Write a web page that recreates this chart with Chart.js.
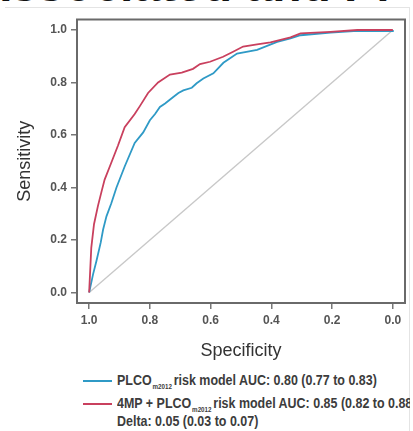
<!DOCTYPE html>
<html>
<head>
<meta charset="utf-8">
<script src="https://cdn.jsdelivr.net/npm/chart.js@4/dist/chart.umd.min.js"></script>
<style>
  body { margin: 0; background: #fff; }
  #wrap { position: relative; width: 410px; height: 431px; overflow: hidden; background: #fff; }
  #heading { position: absolute; left: -24px; top: -39px; font: bold 48px 'Liberation Sans', Arial, sans-serif; line-height: 48px; color: #111; white-space: nowrap; }
  #rule { position: absolute; left: 5px; top: 7px; width: 404px; height: 440px; border-top: 1px solid #e4e4e4; border-right: 1px solid #e4e4e4; background: #fff; }
  #roc { position: absolute; left: 0; top: 0; }
  .swatch { position: absolute; left: 83px; width: 29px; height: 2px; }
  .key { position: absolute; left: 117px; height: 16px; line-height: 16px; font: bold 14px 'Liberation Sans', Arial, sans-serif; color: #3c3c3c; white-space: nowrap; transform: scaleX(0.89); transform-origin: left center; }
  .key sub { font-size: 7px; line-height: 7px; vertical-align: -4px; margin: 0 2px 0 1px; }
</style>
</head>
<body>
<div id="wrap">
  <div id="heading">Associated and Pr</div>
  <div id="rule"></div>
  <canvas id="roc" width="413" height="365"></canvas>
  <div class="swatch" style="top:380px; background:#2f9ac6"></div>
  <div class="key" style="top:372px">PLCO<sub>m2012</sub>risk model AUC: 0.80 (0.77 to 0.83)</div>
  <div class="swatch" style="top:403px; background:#c9405e"></div>
  <div class="key" style="top:395px">4MP + PLCO<sub>m2012</sub>risk model AUC: 0.85 (0.82 to 0.88)</div>
  <div class="key" style="top:413px">Delta: 0.05 (0.03 to 0.07)</div>
</div>
<script>
// ROC points read as (specificity, sensitivity)
const plcoSpec = [1.0, 0.987, 0.976, 0.962, 0.954, 0.943, 0.927, 0.910, 0.883, 0.850, 0.822, 0.800,
  0.783, 0.767, 0.750, 0.723, 0.706, 0.690, 0.662, 0.646, 0.624, 0.591, 0.558, 0.513, 0.447,
  0.381, 0.337, 0.304, 0.205, 0.129, 0.001, 0.0];
const plcoSens = [0.0, 0.07, 0.12, 0.19, 0.24, 0.29, 0.34, 0.40, 0.48, 0.57, 0.61, 0.656,
  0.68, 0.707, 0.72, 0.745, 0.76, 0.77, 0.78, 0.797, 0.815, 0.835, 0.875, 0.91, 0.924,
  0.955, 0.968, 0.98, 0.99, 0.996, 0.996, 1.0];

const panelSpec = [1.0, 0.993, 0.984, 0.971, 0.958, 0.949, 0.932, 0.905, 0.883, 0.850, 0.833,
  0.806, 0.773, 0.734, 0.695, 0.658, 0.635, 0.602, 0.559, 0.526, 0.493, 0.447, 0.403, 0.337,
  0.304, 0.205, 0.117, 0.0];
const panelSens = [0.0, 0.17, 0.26, 0.33, 0.39, 0.43, 0.48, 0.56, 0.63, 0.68, 0.71,
  0.76, 0.80, 0.83, 0.838, 0.852, 0.87, 0.879, 0.898, 0.917, 0.937, 0.945, 0.953, 0.972,
  0.987, 0.993, 1.0, 1.0];

const chanceSpec = [1, 0];
const chanceSens = [0, 1];

const axisTicks = [0, 0.2, 0.4, 0.6, 0.8, 1.0];

const toPoints = (xs, ys) => xs.map((x, i) => ({ x: x, y: ys[i] }));

Chart.defaults.font.family = "'Liberation Sans', Arial, sans-serif";

// box round the plot area
const frameBox = {
  id: 'frameBox',
  afterDatasetsDraw(chart) {
    const { ctx, chartArea: a } = chart;
    ctx.save();
    ctx.strokeStyle = '#6a6a6a';
    ctx.lineWidth = 2;
    ctx.strokeRect(a.left, a.top, a.right - a.left, a.bottom - a.top);
    ctx.restore();
  }
};

const tickGrid = { drawOnChartArea: false, drawTicks: true, tickLength: 6, color: '#777', lineWidth: 1.5 };
const tickFont = { size: 12, weight: 'bold' };

new Chart(document.getElementById('roc'), {
  type: 'scatter',
  data: {
    datasets: [
      {
        label: '4MP + PLCOm2012',
        data: toPoints(panelSpec, panelSens),
        showLine: true, borderColor: '#c9405e', borderWidth: 1.8, pointRadius: 0, order: 0
      },
      {
        label: 'PLCOm2012',
        data: toPoints(plcoSpec, plcoSens),
        showLine: true, borderColor: '#2f9ac6', borderWidth: 1.8, pointRadius: 0, order: 1
      },
      {
        label: 'chance',
        data: toPoints(chanceSpec, chanceSens),
        showLine: true, borderColor: '#c8c8c8', borderWidth: 1.4, pointRadius: 0, order: 2
      }
    ]
  },
  options: {
    responsive: false,
    animation: false,
    layout: { padding: { left: 0, top: 19.5, right: 8, bottom: 0 } },
    plugins: { legend: { display: false }, tooltip: { enabled: false } },
    scales: {
      x: {
        type: 'linear', reverse: true, min: -0.04, max: 1.04,
        afterBuildTicks: s => { s.ticks = axisTicks.map(v => ({ value: v })); },
        afterFit: s => { s.height = 62; },
        grid: tickGrid,
        border: { display: false },
        ticks: { padding: 4, color: '#555', font: tickFont, callback: v => v.toFixed(1) },
        title: { display: true, text: 'Specificity', color: '#333', font: { size: 18 }, padding: { top: 0, bottom: 3 } }
      },
      y: {
        type: 'linear', min: -0.04, max: 1.04,
        afterBuildTicks: s => { s.ticks = axisTicks.map(v => ({ value: v })); },
        afterFit: s => { s.width = 77; },
        grid: tickGrid,
        border: { display: false },
        ticks: { padding: 4, color: '#555', font: tickFont, callback: v => v.toFixed(1) },
        title: { display: true, text: 'Sensitivity', color: '#333', font: { size: 18 }, padding: { top: 14, bottom: 0 } }
      }
    }
  },
  plugins: [frameBox]
});
</script>
</body>
</html>
